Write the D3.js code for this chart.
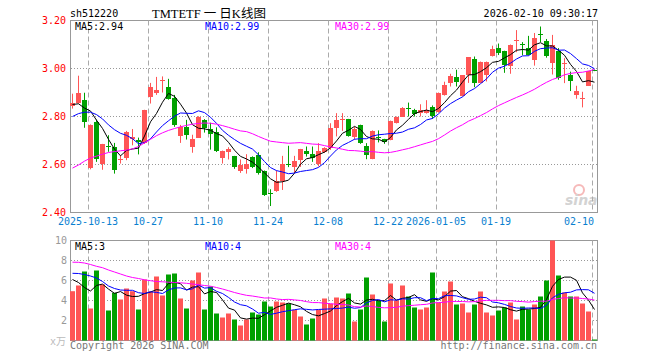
<!DOCTYPE html>
<html>
<head>
<meta charset="utf-8">
<script src="https://cdn.jsdelivr.net/npm/d3@7"></script>
<style>
body { margin: 0; background: #fff; }
svg { display: block; }
text { font-family: "DejaVu Sans Mono", monospace; font-size: 10px; }
</style>
</head>
<body>
<div id="chart"></div>
<script>
// trading days shown in the picture
const dates = [
  '2025-09-30', '2025-10-09', '2025-10-10',
  '2025-10-13', '2025-10-14', '2025-10-15', '2025-10-16', '2025-10-17',
  '2025-10-20', '2025-10-21', '2025-10-22', '2025-10-23', '2025-10-24',
  '2025-10-27', '2025-10-28', '2025-10-29', '2025-10-30', '2025-10-31',
  '2025-11-03', '2025-11-04', '2025-11-05', '2025-11-06', '2025-11-07',
  '2025-11-10', '2025-11-11', '2025-11-12', '2025-11-13', '2025-11-14',
  '2025-11-17', '2025-11-18', '2025-11-19', '2025-11-20', '2025-11-21',
  '2025-11-24', '2025-11-25', '2025-11-26', '2025-11-27', '2025-11-28',
  '2025-12-01', '2025-12-02', '2025-12-03', '2025-12-04', '2025-12-05',
  '2025-12-08', '2025-12-09', '2025-12-10', '2025-12-11', '2025-12-12',
  '2025-12-15', '2025-12-16', '2025-12-17', '2025-12-18', '2025-12-19',
  '2025-12-22', '2025-12-23', '2025-12-24', '2025-12-25', '2025-12-26',
  '2025-12-29', '2025-12-30', '2025-12-31',
  '2026-01-05', '2026-01-06', '2026-01-07', '2026-01-08', '2026-01-09',
  '2026-01-12', '2026-01-13', '2026-01-14', '2026-01-15', '2026-01-16',
  '2026-01-19', '2026-01-20', '2026-01-21', '2026-01-22', '2026-01-23',
  '2026-01-26', '2026-01-27', '2026-01-28', '2026-01-29', '2026-01-30',
  '2026-02-02', '2026-02-03', '2026-02-04', '2026-02-05', '2026-02-06',
  '2026-02-09', '2026-02-10'
];

const open = [2.845, 2.86, 2.868, 2.583, 2.778, 2.60, 2.676, 2.671, 2.62, 2.628,
  2.706, 2.70, 2.688, 2.88, 2.898, 2.946, 2.925, 2.878, 2.72, 2.757,
  2.673, 2.713, 2.786, 2.749, 2.737, 2.628, 2.655, 2.635, 2.572, 2.582,
  2.630, 2.638, 2.574, 2.482, 2.488, 2.530, 2.601, 2.590, 2.619, 2.657,
  2.643, 2.602, 2.651, 2.671, 2.751, 2.784, 2.788, 2.718, 2.764, 2.677,
  2.624, 2.714, 2.706, 2.702, 2.772, 2.800, 2.836, 2.825, 2.812, 2.815,
  2.841, 2.818, 2.890, 2.941, 2.965, 2.883, 2.971, 3.040, 2.941, 2.974,
  3.053, 3.086, 3.074, 3.007, 3.115, 3.103, 3.085, 3.034, 3.144, 3.116,
  3.022, 3.075, 3.018, 2.974, 2.890, 2.876, 2.929, 2.994];
const high = [2.895, 2.97, 2.899, 2.767, 2.787, 2.686, 2.722, 2.69, 2.639, 2.74,
  2.748, 2.712, 2.828, 2.94, 2.965, 2.967, 2.957, 2.89, 2.765, 2.786,
  2.724, 2.801, 2.789, 2.774, 2.755, 2.658, 2.672, 2.636, 2.621, 2.643,
  2.634, 2.651, 2.575, 2.497, 2.575, 2.636, 2.678, 2.636, 2.665, 2.675,
  2.675, 2.689, 2.672, 2.772, 2.814, 2.814, 2.790, 2.757, 2.766, 2.689,
  2.742, 2.742, 2.707, 2.783, 2.800, 2.839, 2.858, 2.832, 2.851, 2.868,
  2.846, 2.900, 2.945, 2.978, 2.995, 2.971, 3.046, 3.050, 3.029, 3.029,
  3.095, 3.104, 3.074, 3.100, 3.160, 3.110, 3.136, 3.148, 3.175, 3.123,
  3.140, 3.085, 3.043, 2.987, 2.928, 2.903, 2.990, 2.996];
const low = [2.833, 2.854, 2.753, 2.580, 2.611, 2.578, 2.653, 2.562, 2.604, 2.618,
  2.68, 2.642, 2.686, 2.854, 2.89, 2.90, 2.87, 2.757, 2.69, 2.704,
  2.649, 2.712, 2.733, 2.662, 2.652, 2.604, 2.621, 2.582, 2.565, 2.562,
  2.585, 2.558, 2.469, 2.427, 2.486, 2.494, 2.589, 2.564, 2.590, 2.633,
  2.611, 2.592, 2.648, 2.661, 2.717, 2.740, 2.716, 2.704, 2.686, 2.622,
  2.622, 2.692, 2.686, 2.701, 2.771, 2.799, 2.800, 2.80, 2.80, 2.812,
  2.790, 2.816, 2.887, 2.925, 2.925, 2.883, 2.940, 2.922, 2.940, 2.946,
  3.050, 3.056, 2.982, 2.978, 3.068, 3.055, 3.054, 3.012, 3.110, 3.045,
  2.975, 2.953, 2.939, 2.906, 2.874, 2.838, 2.927, 2.989];
const close = [2.856, 2.90, 2.778, 2.764, 2.625, 2.685, 2.672, 2.574, 2.625, 2.736,
  2.716, 2.69, 2.826, 2.921, 2.91, 2.95, 2.874, 2.765, 2.758, 2.724,
  2.708, 2.80, 2.753, 2.727, 2.657, 2.658, 2.666, 2.59, 2.598, 2.604,
  2.59, 2.561, 2.472, 2.476, 2.530, 2.601, 2.595, 2.616, 2.664, 2.643,
  2.627, 2.655, 2.669, 2.753, 2.786, 2.788, 2.717, 2.750, 2.688, 2.640,
  2.740, 2.708, 2.692, 2.782, 2.799, 2.837, 2.832, 2.81, 2.826, 2.829,
  2.804, 2.898, 2.932, 2.970, 2.946, 2.971, 3.046, 2.942, 3.029, 3.028,
  3.083, 3.067, 3.015, 3.096, 3.119, 3.099, 3.054, 3.126, 3.139, 3.054,
  3.097, 2.964, 3.022, 2.949, 2.907, 2.879, 2.990, 2.990];

// volume, in units of 万
const volume = [4.93, 5.5, 6.9, 3.2, 7.0, 5.6, 3.0, 4.77, 4.1, 5.2,
  4.93, 3.1, 6.1, 4.9, 6.4, 4.5, 6.6, 6.7, 4.2, 3.2,
  6.0, 6.8, 3.1, 5.4, 2.7, 2.3, 2.7, 2.1, 1.5, 2.1,
  2.8, 2.6, 3.9, 3.4, 3.9, 3.8, 3.7, 3.07, 2.4, 1.6,
  2.2, 3.07, 4.2, 3.67, 4.3, 4.2, 4.7, 1.9, 3.1, 6.3,
  4.6, 4.0, 1.9, 5.7, 4.0, 5.5, 4.4, 3.3, 3.1, 3.3,
  6.8, 3.8, 4.9, 5.9, 3.6, 3.7, 2.8, 3.6, 4.9, 2.8,
  2.5, 3.0, 3.3, 3.8, 2.1, 3.4, 3.1, 3.6, 4.4, 6.0,
  10.0, 6.5, 4.8, 4.4, 4.4, 3.7, 2.9, 0.1];

// moving average values for the first days (window not full yet)
const ma5Head = [2.85, 2.853, 2.835, 2.823];
const ma10Head = [2.80, 2.812, 2.818, 2.818, 2.808, 2.79, 2.765, 2.745, 2.73];
const ma30Head = [2.585, 2.598, 2.614, 2.627, 2.635, 2.643, 2.650, 2.654, 2.657, 2.660,
  2.665, 2.675, 2.69, 2.705, 2.72, 2.732, 2.742, 2.75, 2.757, 2.763,
  2.768, 2.771, 2.773, 2.772, 2.768, 2.762, 2.755, 2.747, 2.740];
const vma5Head = [6.1, 5.8, 5.3, 4.95];
const vma10Head = [6.72, 6.7, 6.6, 6.45, 6.25, 5.9, 5.45, 5.2, 5.05];
const vma30Head = [7.83, 7.82, 7.75, 7.6, 7.42, 7.28, 7.05, 6.85, 6.65, 6.45,
  6.3, 6.2, 6.07, 5.98, 5.9, 5.87, 5.83, 5.8, 5.77, 5.72,
  5.65, 5.58, 5.5, 5.43, 5.3, 5.15, 4.98, 4.8, 4.65];

const priceTicks = [2.40, 2.60, 2.80, 3.00, 3.20];
const volTicks = [2, 4, 6, 8, 10];
const tickDates = ['2025-10-13', '2025-10-27', '2025-11-10', '2025-11-24', '2025-12-08',
  '2025-12-22', '2026-01-05', '2026-01-19', '2026-02-10'];
const tickLabels = ['2025-10-13', '10-27', '11-10', '11-24', '12-08',
  '12-22', '2026-01-05', '01-19', '02-10'];
const maLabels = ['MA5:2.94', 'MA10:2.99', 'MA30:2.99'];
const vmaLabels = ['MA5:3', 'MA10:4', 'MA30:4'];

const width = 660;
const height = 360;
const red = '#ff5555';
const green = '#00a000';
const maColors = ['#000000', '#0000ff', '#ff00ff'];

const svg = d3.select('#chart').append('svg')
    .attr('width', width)
    .attr('height', height);

const x = d3.scaleBand()
    .domain(dates)
    .range([70, 598])
    .paddingInner(1 / 6)
    .paddingOuter(1 / 12)
    .align(0);

const y = d3.scaleLinear().domain([2.4, 3.2]).range([212.5, 20.5]);
const yv = d3.scaleLinear().domain([0, 10]).range([340.5, 240.5]);

function movingAvg(values, n, head) {
  return values.map((v, i) => i < n - 1 ? head[i] : d3.mean(values.slice(i - n + 1, i + 1)));
}

const priceMA = [movingAvg(close, 5, ma5Head), movingAvg(close, 10, ma10Head), movingAvg(close, 30, ma30Head)];
const volMA = [movingAvg(volume, 5, vma5Head), movingAvg(volume, 10, vma10Head), movingAvg(volume, 30, vma30Head)];

const isUp = i => close[i] >= open[i];
const mid = d => x(d) + x.bandwidth() / 2;

// header
svg.append('text').attr('x', 70).attr('y', 17).text('sh512220');
svg.append('text').attr('x', 152).attr('y', 17.5)
    .style('font-family', '"Liberation Serif", "Noto Sans CJK SC", serif')
    .style('font-size', '12.5px')
    .text('TMTETF 一 日K线图');
svg.append('text').attr('x', 598).attr('y', 17).attr('text-anchor', 'end').text('2026-02-10 09:30:17');

// panel frames
[[20.5, 192], [240.5, 100]].forEach(([top, h]) => {
  svg.append('rect')
      .attr('x', 70.5).attr('y', top)
      .attr('width', 527).attr('height', h)
      .attr('fill', 'none').attr('stroke', '#999');
});

// horizontal dotted grid
svg.append('g').selectAll('line')
    .data([2.6, 2.8, 3.0])
    .join('line')
    .attr('x1', 71).attr('x2', 597)
    .attr('y1', d => y(d)).attr('y2', d => y(d))
    .attr('stroke', '#999').attr('stroke-dasharray', '1,2');

svg.append('g').selectAll('line')
    .data([2, 4, 6, 8])
    .join('line')
    .attr('x1', 71).attr('x2', 597)
    .attr('y1', d => yv(d)).attr('y2', d => yv(d))
    .attr('stroke', '#999').attr('stroke-dasharray', '1,2');

// vertical dashed grid at the date ticks
const vgrid = svg.append('g').attr('stroke', '#aaa').attr('stroke-dasharray', '5,3');
[[20.5, 212.5], [240.5, 340.5]].forEach(([t, b]) => {
  vgrid.append('g').selectAll('line')
      .data(tickDates)
      .join('line')
      .attr('x1', d => x(d) + 0.5).attr('x2', d => x(d) + 0.5)
      .attr('y1', t).attr('y2', b);
});

// sina watermark
const logo = svg.append('g').attr('opacity', 0.55);
logo.append('circle').attr('cx', 579).attr('cy', 190).attr('r', 5)
    .attr('fill', 'none').attr('stroke', '#f08080').attr('stroke-width', 2);
logo.append('text').attr('x', 565).attr('y', 205)
    .style('font-family', '"DejaVu Sans", sans-serif')
    .style('font-size', '14px').style('font-style', 'italic').style('font-weight', 'bold')
    .attr('fill', '#b0b0b0').text('sina');

// candles
const candles = svg.append('g').attr('id', 'candles');
candles.selectAll('line')
    .data(dates)
    .join('line')
    .attr('x1', mid).attr('x2', mid)
    .attr('y1', (d, i) => y(high[i])).attr('y2', (d, i) => y(low[i]))
    .attr('stroke', (d, i) => isUp(i) ? red : green);

candles.selectAll('rect')
    .data(dates)
    .join('rect')
    .attr('x', d => x(d))
    .attr('width', x.bandwidth())
    .attr('y', (d, i) => Math.round(y(Math.max(open[i], close[i]))))
    .attr('height', (d, i) => Math.max(1, Math.round(Math.abs(y(open[i]) - y(close[i])))))
    .attr('fill', (d, i) => isUp(i) ? red : green);

// volume bars
svg.append('g').attr('id', 'volume')
    .selectAll('rect')
    .data(volume)
    .join('rect')
    .attr('x', (d, i) => x(dates[i]))
    .attr('width', x.bandwidth())
    .attr('y', d => yv(d))
    .attr('height', d => yv(0) - yv(d))
    .attr('fill', (d, i) => isUp(i) ? red : green);

// moving average lines
const priceLine = d3.line().x((d, i) => mid(dates[i])).y(d => y(d));
const volLine = d3.line().x((d, i) => mid(dates[i])).y(d => yv(d));

svg.append('g').selectAll('path')
    .data(priceMA)
    .join('path')
    .attr('d', priceLine)
    .attr('fill', 'none')
    .attr('stroke', (d, i) => maColors[i]);

svg.append('g').selectAll('path')
    .data(volMA)
    .join('path')
    .attr('d', volLine)
    .attr('fill', 'none')
    .attr('stroke', (d, i) => maColors[i]);

// legends
const legendX = [75, 205, 335];
svg.append('g').selectAll('text')
    .data(maLabels)
    .join('text')
    .attr('x', (d, i) => legendX[i]).attr('y', 30)
    .attr('fill', (d, i) => maColors[i])
    .text(d => d);
svg.append('g').selectAll('text')
    .data(vmaLabels)
    .join('text')
    .attr('x', (d, i) => legendX[i]).attr('y', 250)
    .attr('fill', (d, i) => maColors[i])
    .text(d => d);

// price axis
svg.append('g')
    .attr('transform', 'translate(70,0)')
    .call(d3.axisLeft(y).tickValues(priceTicks).tickFormat(d3.format('.2f')).tickSize(0).tickPadding(4))
    .call(g => g.select('.domain').remove())
    .call(g => g.selectAll('text')
        .attr('fill', '#ff0000')
        .style('font-family', '"DejaVu Sans Mono", monospace')
        .style('font-size', '10px'));

// volume axis
svg.append('g')
    .attr('transform', 'translate(70,0)')
    .call(d3.axisLeft(yv).tickValues(volTicks).tickSize(0).tickPadding(3))
    .call(g => g.select('.domain').remove())
    .call(g => g.selectAll('text')
        .attr('fill', '#999')
        .style('font-family', '"DejaVu Sans Mono", monospace')
        .style('font-size', '10px'));

svg.append('text').attr('x', 66).attr('y', 345).attr('text-anchor', 'end')
    .attr('fill', '#bbb')
    .style('font-family', '"DejaVu Sans Mono", "Noto Sans CJK SC", monospace')
    .text('x万');

// date axis
svg.append('g')
    .attr('transform', 'translate(-2.5,215)')
    .call(d3.axisBottom(x).tickValues(tickDates).tickFormat((d, i) => tickLabels[i]).tickSize(0).tickPadding(3))
    .call(g => g.select('.domain').remove())
    .call(g => g.selectAll('text')
        .attr('fill', '#0a7fd0')
        .style('font-family', '"DejaVu Sans Mono", monospace')
        .style('font-size', '10px'))
    .call(g => g.select('.tick:last-of-type text')
        .attr('text-anchor', 'end')
        .attr('x', 2));

// footer
svg.append('text').attr('x', 70).attr('y', 349).attr('fill', '#777').text('Copyright 2026 SINA.COM');
svg.append('text').attr('x', 597).attr('y', 349).attr('text-anchor', 'end').attr('fill', '#777')
    .text('http://finance.sina.com.cn');
</script>
</body>
</html>
